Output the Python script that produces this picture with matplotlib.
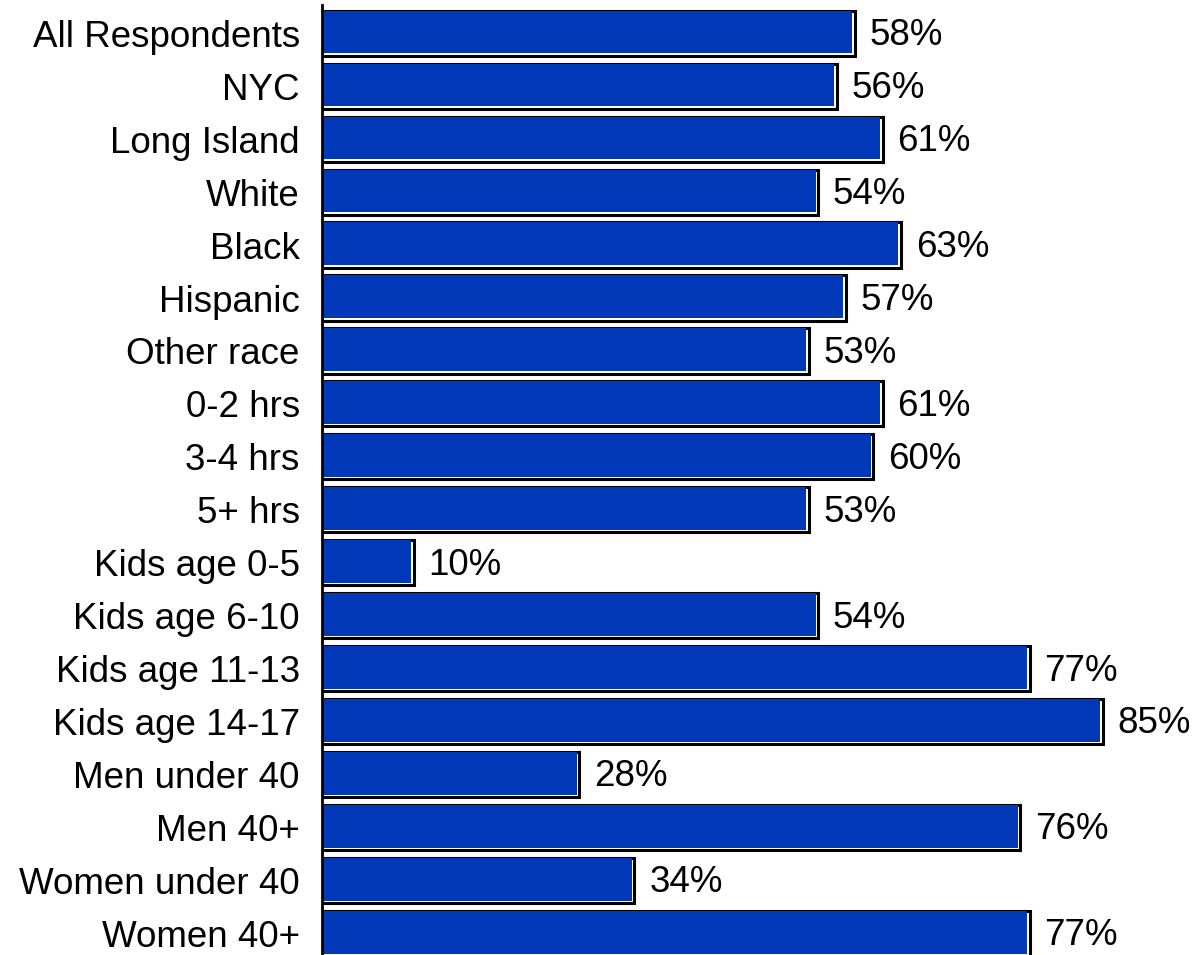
import matplotlib.pyplot as plt
import numpy as np

plt.rcParams['font.family'] = ['Liberation Sans', 'DejaVu Sans']

categories = ['All Respondents', 'NYC', 'Long Island', 'White', 'Black', 'Hispanic',
              'Other race', '0-2 hrs', '3-4 hrs', '5+ hrs', 'Kids age 0-5',
              'Kids age 6-10', 'Kids age 11-13', 'Kids age 14-17', 'Men under 40',
              'Men 40+', 'Women under 40', 'Women 40+']
values = [58, 56, 61, 54, 63, 57, 53, 61, 60, 53, 10, 54, 77, 85, 28, 76, 34, 77]

fig = plt.figure(figsize=(11.96, 9.55), dpi=100)
ax = fig.add_axes([322 / 1196, 0, 1 - 322 / 1196, 950 / 955])

y = np.arange(len(categories))
h = 0.85
# white body with black outline, then blue fill inset so a white strip shows right/bottom
ax.barh(y, values, height=h, color='white', edgecolor='black', linewidth=2.2, zorder=2)
ax.barh(y - 0.02, np.array(values) - 0.3, height=h - 0.04, color='#0038b8',
        edgecolor='none', zorder=3)

for yi, v in zip(y, values):
    ax.text(v + 1.6, yi + 0.04, f'{v}%', va='center', ha='left', fontsize=26.5)

ax.set_xlim(0, 874 / 9.19)
ax.set_ylim(17.4, -0.53)
ax.set_yticks(y)
ax.set_yticklabels(categories, fontsize=26.5)
ax.tick_params(axis='y', length=0, pad=16)
for lab in ax.get_yticklabels():
    lab.set_y(lab.get_position()[1])
ax.set_xticks([])
for s in ['top', 'right', 'bottom']:
    ax.spines[s].set_visible(False)
ax.spines['left'].set_linewidth(2)
ax.spines['left'].set_zorder(4)

fig.savefig('out.png', dpi=100)
